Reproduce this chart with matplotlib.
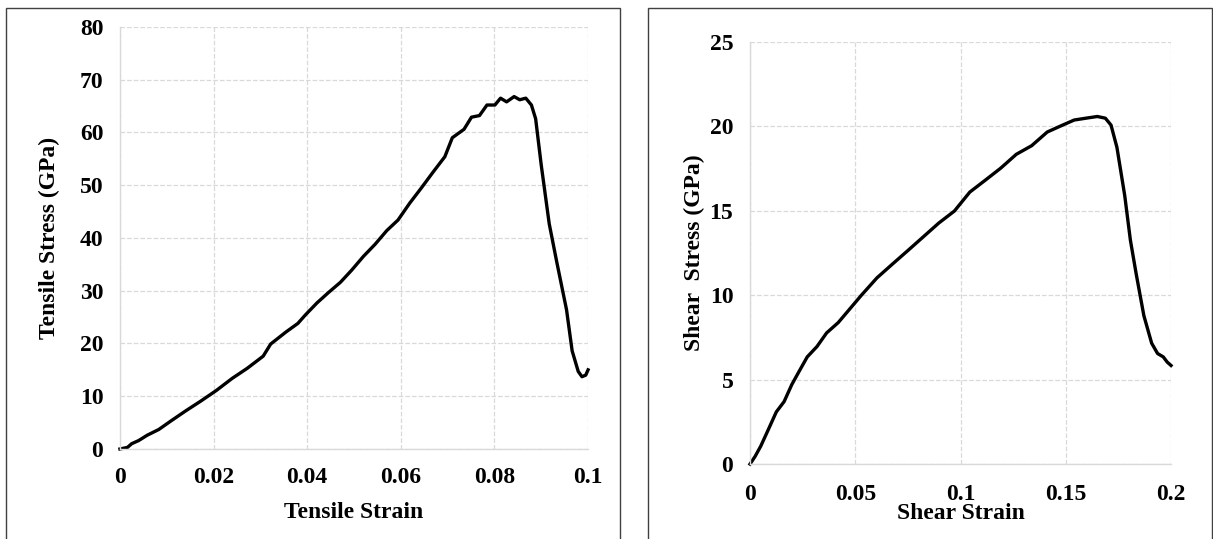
import matplotlib
matplotlib.use("Agg")
import matplotlib.pyplot as plt
from matplotlib.patches import Rectangle

# tensile test (left panel)
tensile_strain = [0, 0.0016, 0.0025, 0.004, 0.0058, 0.0083, 0.0107, 0.014, 0.0173, 0.0206,
                  0.024, 0.0272, 0.0306, 0.0322, 0.0355, 0.038, 0.0396, 0.0421, 0.0446,
                  0.0471, 0.0495, 0.052, 0.0545, 0.057, 0.0594, 0.0619, 0.0644, 0.0669,
                  0.0694, 0.071, 0.0735, 0.0751, 0.0768, 0.0784, 0.0801, 0.0813, 0.0826,
                  0.0842, 0.0854, 0.0867, 0.0879, 0.0888, 0.09, 0.0917, 0.0933, 0.0954,
                  0.0966, 0.0979, 0.0987, 0.0995, 0.1]
tensile_stress = [0, 0.3, 1.0, 1.6, 2.6, 3.7, 5.2, 7.2, 9.1, 11.1,
                  13.4, 15.3, 17.6, 19.9, 22.2, 23.8, 25.4, 27.7, 29.7,
                  31.6, 33.9, 36.5, 38.8, 41.4, 43.4, 46.6, 49.5, 52.5,
                  55.4, 59.0, 60.6, 62.9, 63.2, 65.2, 65.2, 66.5, 65.8,
                  66.8, 66.2, 66.5, 65.2, 62.6, 53.8, 42.7, 35.5, 26.4,
                  18.6, 14.7, 13.7, 14.0, 15.0]

# shear test (right panel)
shear_strain = [0, 0.0024, 0.0051, 0.0088, 0.0125, 0.0162, 0.0199, 0.0235, 0.0272, 0.0318,
                0.0364, 0.0419, 0.0474, 0.0529, 0.0603, 0.0676, 0.075, 0.0824, 0.0897,
                0.0971, 0.1044, 0.1118, 0.1191, 0.1265, 0.1338, 0.1412, 0.1485, 0.154,
                0.1596, 0.165, 0.1688, 0.1715, 0.1743, 0.178, 0.1807, 0.1835, 0.1871,
                0.1908, 0.1936, 0.1963, 0.1982, 0.2]
shear_stress = [0, 0.45, 1.06, 2.07, 3.09, 3.70, 4.72, 5.53, 6.35, 6.96,
                7.77, 8.38, 9.19, 10.0, 11.03, 11.84, 12.65, 13.47, 14.28,
                14.99, 16.11, 16.82, 17.53, 18.35, 18.86, 19.67, 20.08, 20.38,
                20.49, 20.59, 20.49, 20.08, 18.76, 15.91, 13.26, 11.23, 8.79,
                7.16, 6.55, 6.35, 6.04, 5.84]

plt.rcParams['font.family'] = ['Liberation Serif', 'DejaVu Serif']
plt.rcParams['font.weight'] = 'bold'

fig = plt.figure(figsize=(12.13, 5.39), dpi=100)

# panel frames
for x0, x1 in [(0.0048, 0.511), (0.534, 0.999)]:
    fig.patches.append(Rectangle((x0, -0.05), x1 - x0, 1.036, transform=fig.transFigure,
                                 fill=False, edgecolor='#404040', linewidth=1.0))


def style(ax, xmax, ymax, xticks, yticks, xlabels, xpad):
    ax.set_xlim(0, xmax)
    ax.set_ylim(0, ymax)
    ax.set_xticks(xticks)
    ax.set_xticklabels(xlabels)
    ax.set_yticks(yticks)
    ax.grid(True, color='#d9d9d9', linestyle='--', linewidth=0.9)
    ax.set_axisbelow(True)
    for s in ['top', 'right']:
        ax.spines[s].set_visible(False)
    for s in ['left', 'bottom']:
        ax.spines[s].set_color('#d9d9d9')
        ax.spines[s].set_linewidth(1.0)
    ax.tick_params(length=0, labelsize=17)
    ax.tick_params(axis='y', pad=12)
    ax.tick_params(axis='x', pad=xpad)
    for lab in ax.get_xticklabels() + ax.get_yticklabels():
        lab.set_fontweight('bold')


ax1 = fig.add_axes([0.0989, 0.167, 0.3859, 0.783])
ax1.plot(tensile_strain, tensile_stress, color='black', linewidth=2.4, clip_on=False)
style(ax1, 0.1, 80, [0, 0.02, 0.04, 0.06, 0.08, 0.1], range(0, 81, 10),
      ['0', '0.02', '0.04', '0.06', '0.08', '0.1'], 13)
ax1.set_xlabel('Tensile Strain', fontsize=17, fontweight='bold', labelpad=10)
ax1.set_ylabel('Tensile Stress (GPa)', fontsize=17, fontweight='bold', labelpad=14)

ax2 = fig.add_axes([0.6183, 0.139, 0.3471, 0.783])
ax2.plot(shear_strain, shear_stress, color='black', linewidth=2.4, clip_on=False)
style(ax2, 0.2, 25, [0, 0.05, 0.1, 0.15, 0.2], range(0, 26, 5),
      ['0', '0.05', '0.1', '0.15', '0.2'], 14)
ax2.set_xlabel('Shear Strain', fontsize=17, fontweight='bold', labelpad=-1)
ax2.set_ylabel('Shear  Stress (GPa)', fontsize=17, fontweight='bold', labelpad=3)

fig.savefig('out.png', dpi=100)
